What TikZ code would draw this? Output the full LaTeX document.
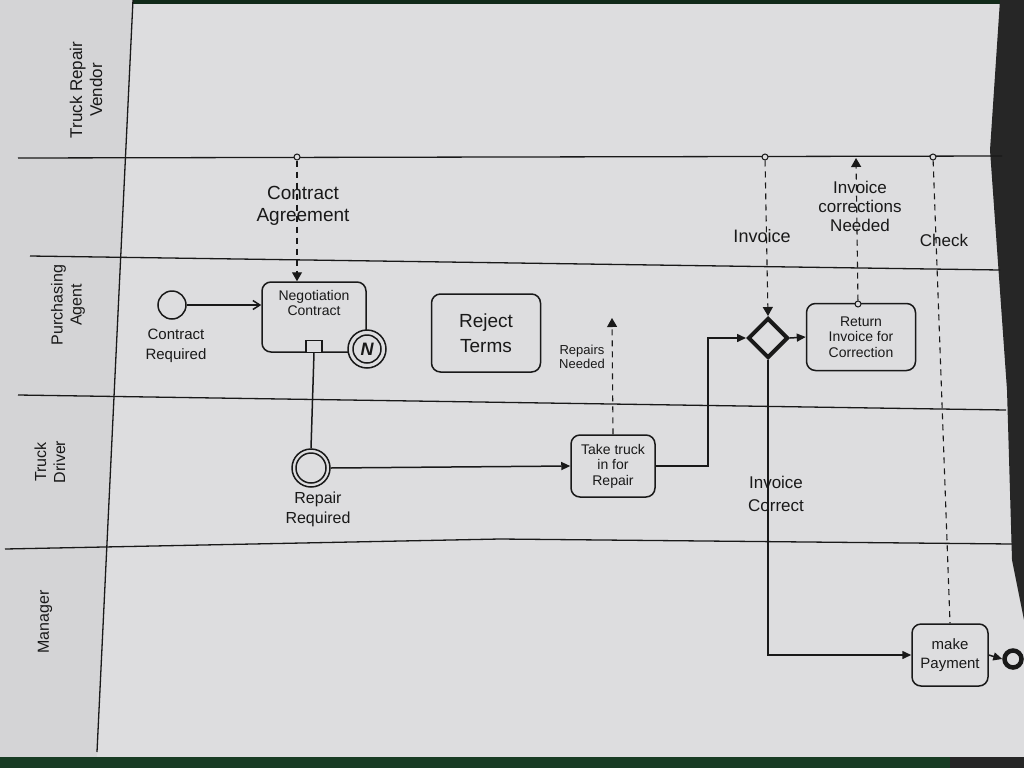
\documentclass[tikz,border=0pt]{standalone}
\usepackage{fontspec}
\setmainfont{Liberation Sans}
\usetikzlibrary{arrows.meta,shapes.geometric,calc}
\definecolor{paper}{RGB}{221,221,223}
\definecolor{paperL}{RGB}{212,212,214}
\definecolor{ink}{RGB}{25,25,25}
\definecolor{felt}{RGB}{24,60,36}
\begin{document}
\begin{tikzpicture}[x=1pt,y=-1pt,
  ink/.style={draw=ink,line width=1.5pt},
  task/.style={ink,rounded corners=9pt,align=center,inner sep=2pt,
     font=\fontsize{14}{15.5}\selectfont,text=ink},
  lbl/.style={align=center,font=\fontsize{16}{18}\selectfont,text=ink,inner sep=1pt},
  lanelbl/.style={align=center,rotate=90,font=\fontsize{16}{19}\selectfont,text=ink},
  flow/.style={ink,-{Triangle[length=9pt,width=8pt]}},
  openflow/.style={ink,-{Straight Barb[length=7pt,width=9pt]}},
  msg/.style={ink,line width=1.1pt,dash pattern=on 6pt off 5pt},
  msgarrow/.style={msg,-{Triangle[length=9pt,width=10pt]}},
  msgsrc/.style={circle,draw=ink,line width=1pt,fill=paper,minimum size=6pt,inner sep=0pt},
  evt/.style={circle,ink,fill=paper,inner sep=0pt}
]
\useasboundingbox (0,0) rectangle (1024,768);
% background: paper and surroundings
\fill[paperL] (0,0) rectangle (1024,768);
\fill[paper] (133,0) -- (1000,0) -- (990,150) -- (1007,390) -- (1012,560) -- (1024,620) -- (1024,757) -- (97,757) -- cycle;
\fill[felt!70!black] (133,0) rectangle (1000,4);
\fill[black!85] (1000,0) -- (1024,0) -- (1024,620) -- (1012,560) -- (1007,390) -- (990,150) -- cycle;
\fill[felt] (0,757) rectangle (950,768);
\fill[black!85] (950,757) rectangle (1024,768);

% lanes
\draw[ink,line width=1.3pt] (133,0) -- (97,752);
\draw[ink,line width=1.3pt] (18,158) -- (1002,156);
\draw[ink,line width=1.3pt] (30,256) -- (1000,270);
\draw[ink,line width=1.3pt] (18,395) -- (1006,410);
\draw[ink,line width=1.3pt] (5,549) -- (500,539) -- (1012,544);

\node[lanelbl,font=\fontsize{17}{20}\selectfont] (l1) at (86,90) {Truck Repair\\Vendor};
\node[lanelbl] (l2) at (68,305) {Purchasing\\Agent};
\node[lanelbl] (l3) at (50,462) {Truck\\Driver};
\node[lanelbl] (l4) at (45,622) {Manager};

% nodes
\node[evt,minimum size=28pt] (start) at (172,305) {};
\node[lbl,font=\fontsize{15}{20}\selectfont] (startl) at (176,346) {Contract\\Required};

\node[task,minimum width=104pt,minimum height=70pt,text depth=28pt] (nego) at (314,317) {Negotiation\\Contract};
\node[ink,line width=1.2pt,minimum width=16pt,minimum height=12pt,inner sep=0pt,anchor=south,fill=paper] (mk) at (nego.south) {};
\node[evt,minimum size=38pt] (bnd) at (367,349) {};
\node[circle,draw=ink,line width=1.5pt,minimum size=28pt,inner sep=0pt,
      font=\fontsize{18}{18}\selectfont\bfseries\itshape,text=ink] (bndin) at (bnd) {N};

\node[task,minimum width=109pt,minimum height=78pt,font=\fontsize{19}{25}\selectfont] (reject) at (486,333) {Reject\\Terms};

\node[evt,minimum size=38pt] (rep) at (311,468) {};
\node[circle,draw=ink,line width=1.5pt,minimum size=30pt,inner sep=0pt] (repin) at (rep) {};
\node[lbl,font=\fontsize{16}{20}\selectfont] (repl) at (318,509) {Repair\\Required};

\node[task,minimum width=84pt,minimum height=62pt] (take) at (613,466) {Take truck\\in for\\Repair};
\node[lbl,font=\fontsize{13}{14}\selectfont] (repn) at (582,357) {Repairs\\Needed};
\coordinate (repup) at (612,318);

\node[diamond,draw=ink,line width=4pt,fill=paper,minimum size=40pt,inner sep=0pt] (gw) at (768,338) {};
\coordinate (bend1) at (708,466);

\node[task,minimum width=109pt,minimum height=67pt] (ret) at (861,337) {Return\\Invoice for\\Correction};

\node[task,minimum width=76pt,minimum height=62pt,font=\fontsize{15}{19}\selectfont] (pay) at (950,655) {make\\Payment};
\node[circle,draw=ink,line width=4.5pt,fill=paper,minimum size=17pt,inner sep=0pt] (end) at (1013,659) {};
\node[lbl,font=\fontsize{17}{23}\selectfont] (invc) at (776,494) {Invoice\\Correct};

% message sources / targets
\node[msgsrc] (s1) at (297,157) {};
\node[msgsrc] (s2) at (765,157) {};
\node[msgsrc] (s4) at (933,157) {};
\node[msgsrc] (s3) at (858,304) {};
\coordinate (m3) at (856,158);

\node[lbl,font=\fontsize{19}{22}\selectfont] (ca) at (303,206) {Contract\\Agreement};
\node[lbl,font=\fontsize{18}{20}\selectfont] (inv) at (762,236) {Invoice};
\node[lbl,font=\fontsize{17}{19}\selectfont] (icn) at (860,206) {Invoice\\corrections\\Needed};
\node[lbl,font=\fontsize{17}{19}\selectfont] (chk) at (944,240) {Check};

% sequence flows
\draw[openflow] (start.east) -- (nego.west |- start.east);
\draw[ink] (mk.south) -- (rep.north);
\draw[flow] (rep.east) -- (take.west);
\draw[flow] (take.east) -- (bend1) |- (gw.west);
\draw[flow] (gw.east) -- (ret.west);
\draw[flow] (gw.south) |- (pay.west);
\draw[flow] (pay.east) -- (end.west);

% message flows
\draw[msgarrow] (s1) -- (s1 |- nego.north);
\draw[msgarrow] (s2) -- (gw.north);
\draw[msgarrow] (s3) -- (m3);
\draw[msgarrow] (take.north) -- (repup);
\draw[msg] (s4) -- (pay.north);
\end{tikzpicture}
\end{document}
